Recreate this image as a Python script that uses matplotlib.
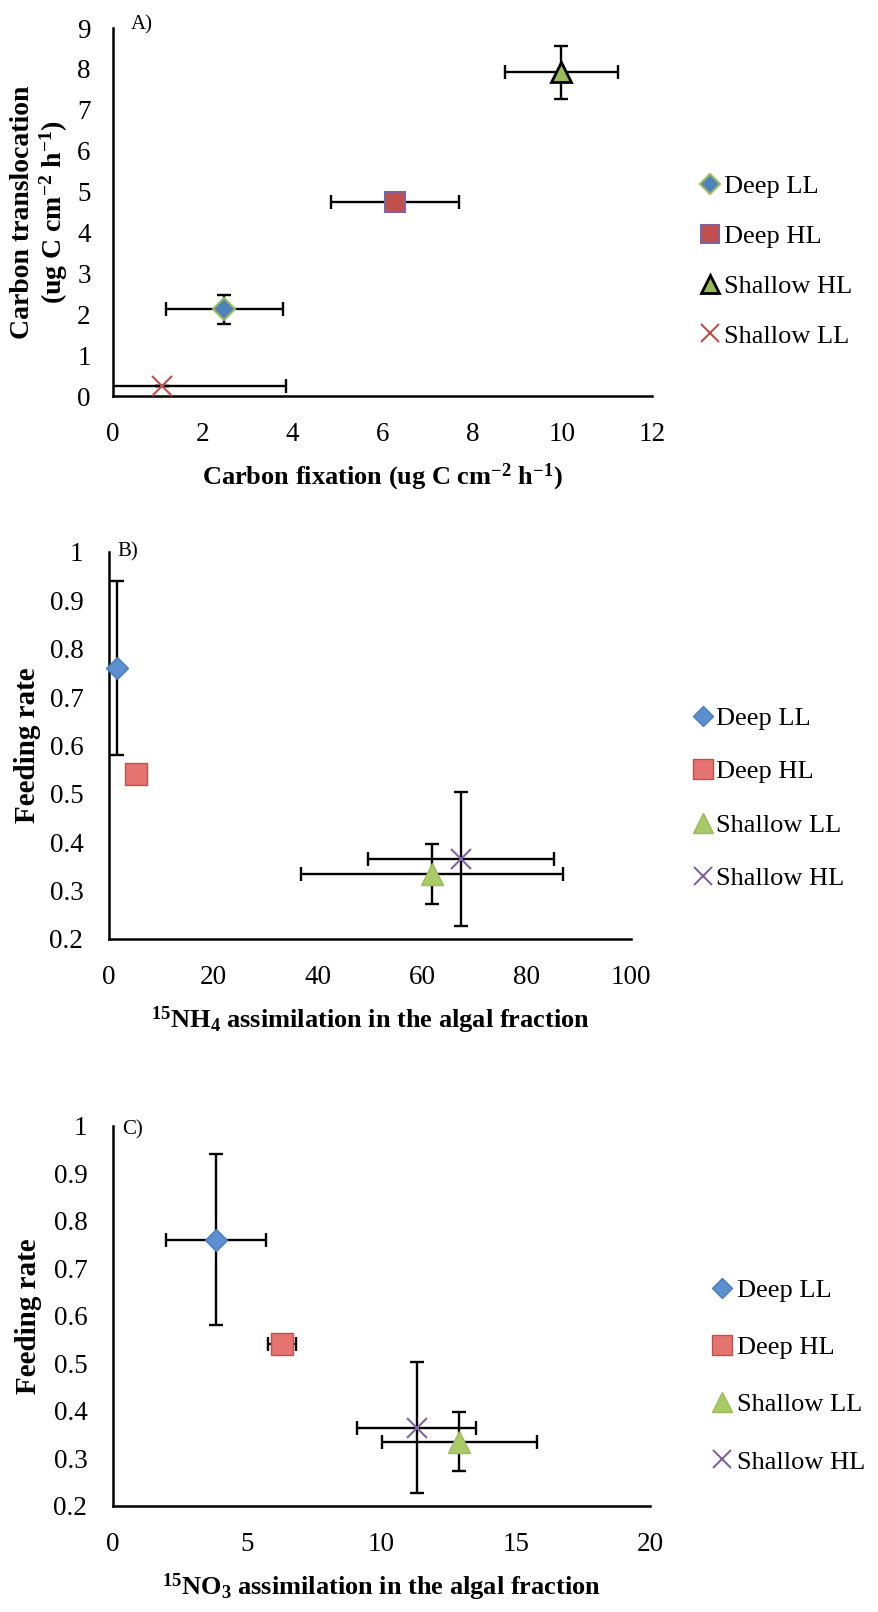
import matplotlib.pyplot as plt

plt.rcParams['font.family'] = ['Liberation Serif', 'DejaVu Serif']
plt.rcParams['mathtext.fontset'] = 'custom'
plt.rcParams['mathtext.rm'] = 'Liberation Serif:bold'
plt.rcParams['mathtext.it'] = 'Liberation Serif:bold'
plt.rcParams['mathtext.bf'] = 'Liberation Serif:bold'
plt.rcParams['mathtext.default'] = 'rm'

# panel A data
names_a = ['Deep LL', 'Deep HL', 'Shallow HL', 'Shallow LL']
fix_a = [2.48, 6.28, 9.98, 1.08]
fix_err_a = [1.31, 1.42, 1.26, 2.77]
trans_a = [2.12, 4.74, 7.92, 0.25]
trans_err_a = [0.35, 0.0, 0.65, 0.0]

# panels B and C data
names_bc = ['Deep LL', 'Deep HL', 'Shallow LL', 'Shallow HL']
feed = [0.76, 0.54, 0.335, 0.365]
feed_err = [0.18, 0.0, 0.062, 0.138]
nh4_b = [1.5, 5.2, 61.9, 67.5]
nh4_err_b = [0.0, 0.0, 25.1, 17.8]
no3_c = [3.85, 6.29, 12.9, 11.31]
no3_err_c = [1.86, 0.52, 2.87, 2.21]

# marker styles: (marker, size, face, edge, edge width)
style_a = [('D', 11.5, '#4F81BD', '#9BBB59', 1.5),
           ('s', 15, '#C0504D', '#8064A2', 1.5),
           ('^', 14.5, '#9BBB59', 'black', 2.0),
           ('x', 14.5, '#C0504D', '#C0504D', 1.5)]
style_bc = [('D', 11, '#5B8FCF', '#4A7EBB', 1.0),
            ('s', 16, '#E57370', '#C0504D', 1.0),
            ('^', 16, '#A8CB6A', '#9BBB59', 1.0),
            ('x', 15, '#8064A2', '#8064A2', 1.5)]


def draw_panel(ax, xs, xerr, ys, yerr, names, styles, ypad):
    ax.errorbar(xs, ys, xerr=xerr, yerr=yerr, fmt='none', ecolor='black',
                elinewidth=1.7, capsize=5, capthick=1.7, zorder=2)
    for i in range(len(xs)):
        m, ms, fc, ec, mew = styles[i]
        ax.plot([xs[i]], [ys[i]], linestyle='none', marker=m, markersize=ms,
                markerfacecolor=fc, markeredgecolor=ec, markeredgewidth=mew,
                label=names[i], zorder=3, clip_on=False)
    for s in ['top', 'right']:
        ax.spines[s].set_visible(False)
    for s in ['left', 'bottom']:
        ax.spines[s].set_linewidth(1.8)
    ax.tick_params(length=0, labelsize=19.5)
    ax.tick_params(axis='x', pad=19)
    ax.tick_params(axis='y', pad=ypad)


fig = plt.figure(figsize=(8.79, 16.12), dpi=100)

# A
ax_a = fig.add_axes([0.1286, 0.7543, 0.6132, 0.2283])
draw_panel(ax_a, fix_a, fix_err_a, trans_a, trans_err_a, names_a, style_a, 16)
ax_a.set_xlim(0, 12)
ax_a.set_ylim(0, 9)
ax_a.set_xticks(range(0, 13, 2))
ax_a.set_yticks(range(0, 10))
ax_a.set_xlabel(r'Carbon fixation (ug C cm$^{-2}$ h$^{-1}$)', fontsize=19,
                fontweight='bold', va='center')
ax_a.xaxis.set_label_coords(0.5, -0.22)
ax_a.set_ylabel('Carbon translocation\n' + r'(ug C cm$^{-2}$ h$^{-1}$)',
                fontsize=20, fontweight='bold', va='center', linespacing=1.1)
ax_a.yaxis.set_label_coords(-0.135, 0.5)
ax_a.text(0.033, 1.01, 'A)', transform=ax_a.transAxes, fontsize=15, va='center')
ax_a.legend(loc='center left', bbox_to_anchor=(0.797, 0.838),
            bbox_transform=fig.transFigure, frameon=False, fontsize=19,
            handlelength=0.7, handletextpad=0.2, labelspacing=1.0,
            borderpad=0, borderaxespad=0, markerscale=0.9)

ticks_feed = [0.2, 0.3, 0.4, 0.5, 0.6, 0.7, 0.8, 0.9, 1.0]
labels_feed = ['0.2', '0.3', '0.4', '0.5', '0.6', '0.7', '0.8', '0.9', '1']

# B
ax_b = fig.add_axes([0.124, 0.4175, 0.5939, 0.2401])
draw_panel(ax_b, nh4_b, nh4_err_b, feed, feed_err, names_bc, style_bc, 18.5)
ax_b.set_xlim(0, 100)
ax_b.set_ylim(0.2, 1.0)
ax_b.set_xticks(range(0, 101, 20))
ax_b.set_yticks(ticks_feed, labels_feed)
ax_b.set_xlabel(r'$^{15}$NH$_4$ assimilation in the algal fraction', fontsize=19,
                fontweight='bold', va='center')
ax_b.xaxis.set_label_coords(0.5, -0.209)
ax_b.set_ylabel('Feeding rate', fontsize=21, fontweight='bold', va='center')
ax_b.yaxis.set_label_coords(-0.157, 0.5)
ax_b.text(0.017, 1.0, 'B)', transform=ax_b.transAxes, fontsize=15, va='center')
ax_b.legend(loc='center left', bbox_to_anchor=(0.789, 0.5047),
            bbox_transform=fig.transFigure, frameon=False, fontsize=19,
            handlelength=0.7, handletextpad=0.17, labelspacing=1.14,
            borderpad=0, borderaxespad=0, markerscale=0.9)

# C
ax_c = fig.add_axes([0.1286, 0.0658, 0.611, 0.2357])
draw_panel(ax_c, no3_c, no3_err_c, feed, feed_err, names_bc, style_bc, 18.5)
ax_c.set_xlim(0, 20)
ax_c.set_ylim(0.2, 1.0)
ax_c.set_xticks(range(0, 21, 5))
ax_c.set_yticks(ticks_feed, labels_feed)
ax_c.set_xlabel(r'$^{15}$NO$_3$ assimilation in the algal fraction', fontsize=19,
                fontweight='bold', va='center')
ax_c.xaxis.set_label_coords(0.5, -0.213)
ax_c.set_ylabel('Feeding rate', fontsize=21, fontweight='bold', va='center')
ax_c.yaxis.set_label_coords(-0.158, 0.5)
ax_c.text(0.017, 0.99, 'C)', transform=ax_c.transAxes, fontsize=15, va='center')
ax_c.legend(loc='center left', bbox_to_anchor=(0.811, 0.1464),
            bbox_transform=fig.transFigure, frameon=False, fontsize=19,
            handlelength=0.7, handletextpad=0.2, labelspacing=1.28,
            borderpad=0, borderaxespad=0, markerscale=0.9)

fig.savefig('out.png', dpi=100)
plt.close(fig)
